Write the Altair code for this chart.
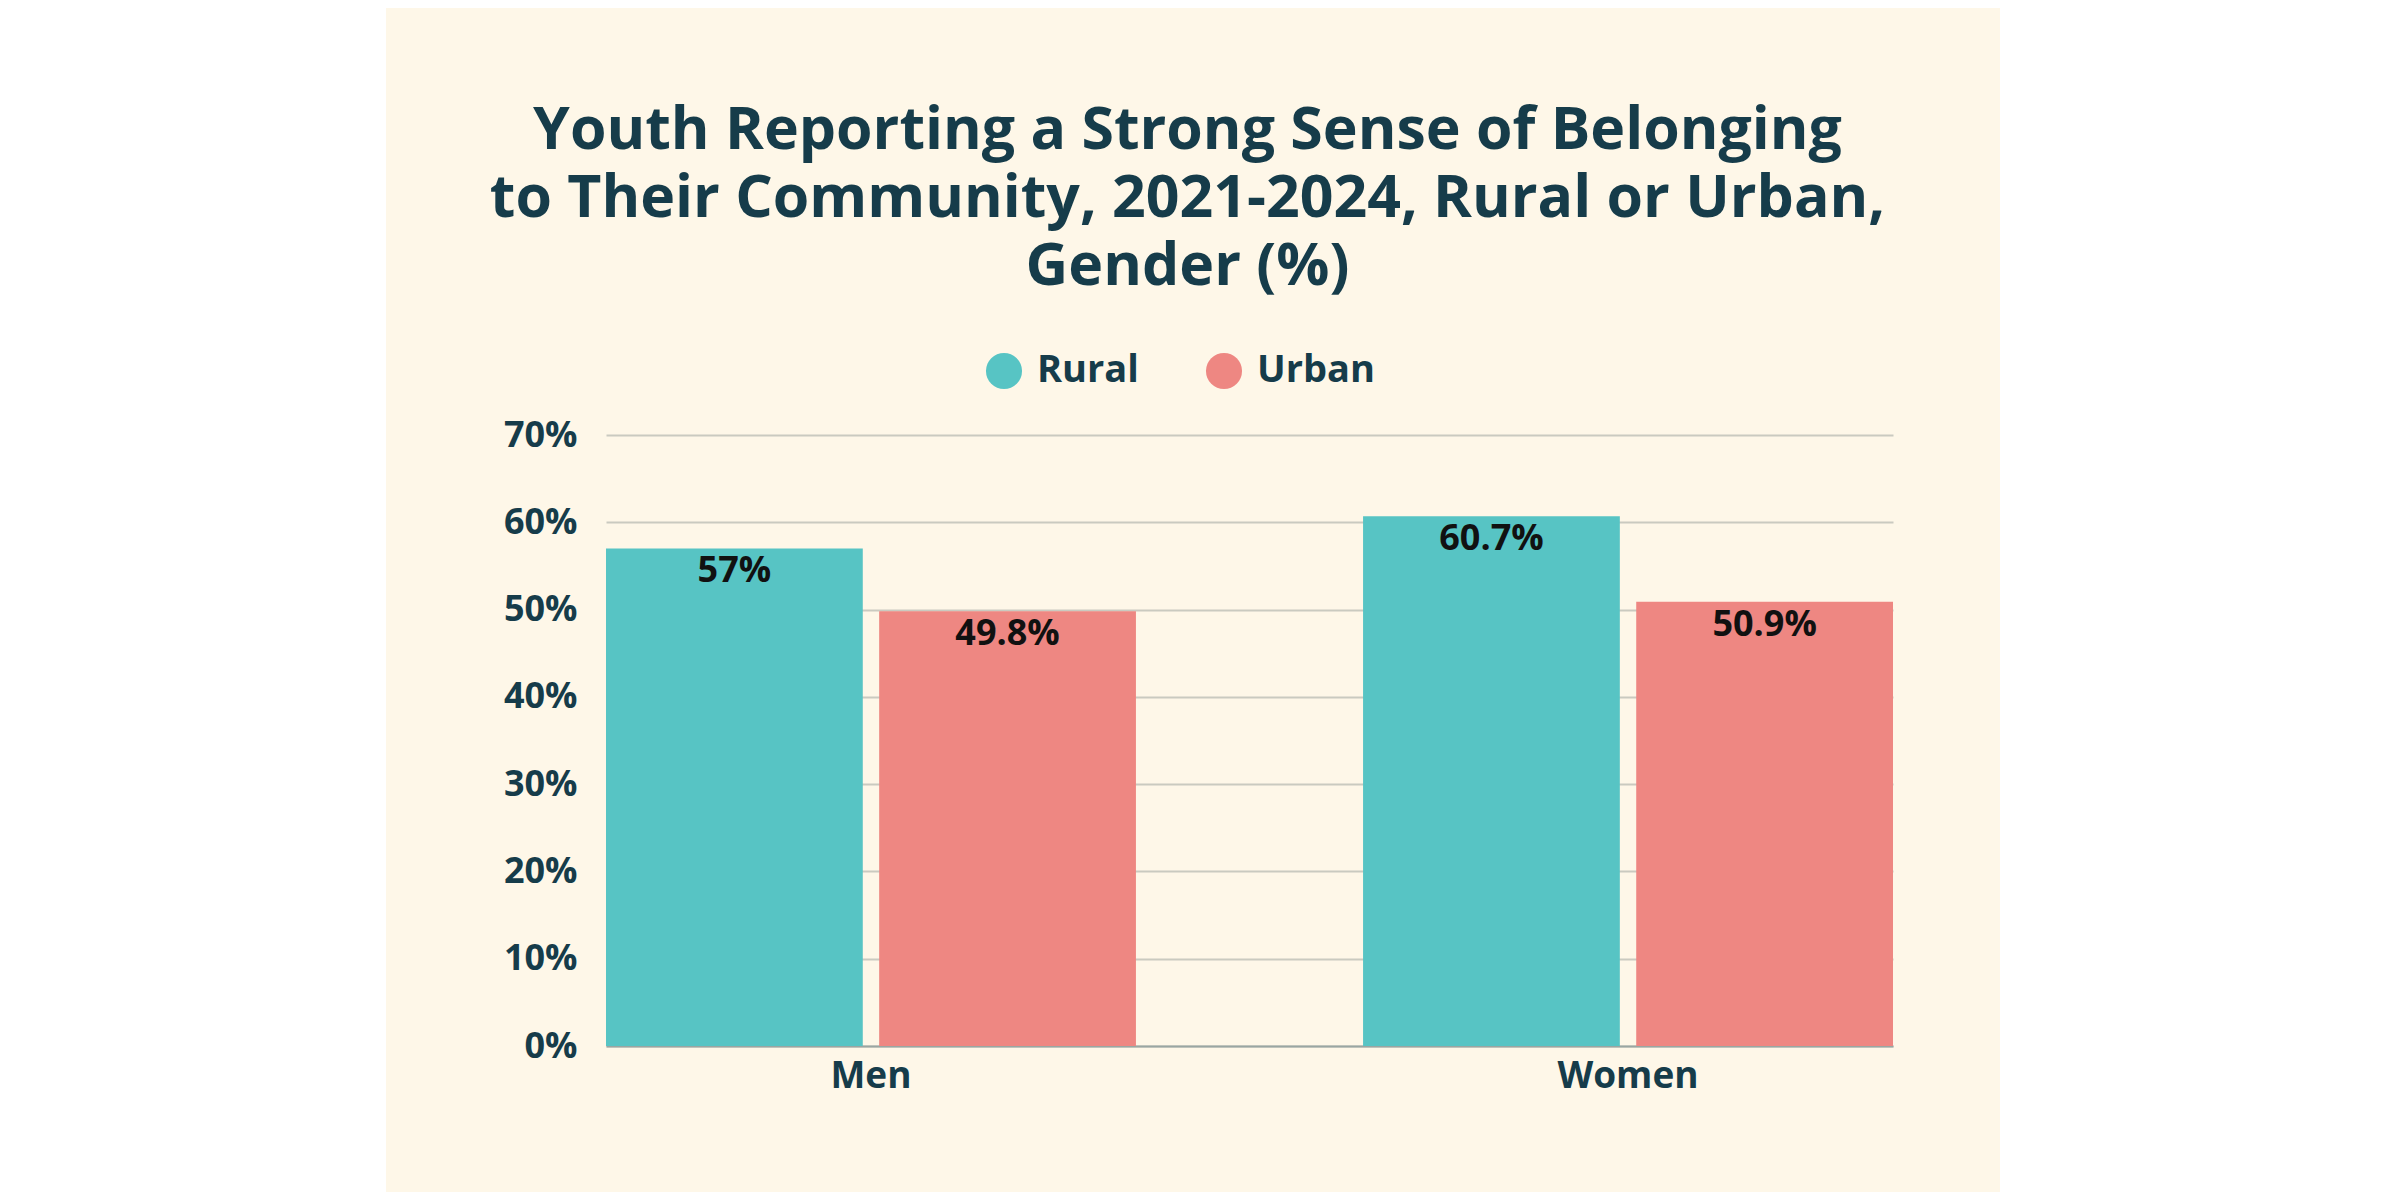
import altair as alt
import pandas as pd

# values
gender = ['Men', 'Men', 'Women', 'Women']
area = ['Rural', 'Urban', 'Rural', 'Urban']
share = [57, 49.8, 60.7, 50.9]
share_label = ['57%', '49.8%', '60.7%', '50.9%']
y_ticks = [0, 10, 20, 30, 40, 50, 60, 70]

df = pd.DataFrame({'gender': gender, 'area': area, 'share': share, 'label': share_label})

ink = '#163c4a'
cream = '#fef7e8'
font = 'Open Sans'

x_enc = alt.X('gender:N', title=None,
              scale=alt.Scale(paddingInner=0.3, paddingOuter=0),
              axis=alt.Axis(labelAngle=0, labelFontSize=37, labelPadding=12, ticks=False,
                            domain=True, domainColor='#9aa6a2', domainWidth=2, grid=False))
y_enc = alt.Y('share:Q', title=None,
              scale=alt.Scale(domain=[0, 70], nice=False),
              axis=alt.Axis(values=y_ticks, labelExpr="datum.value + '%'", labelFontSize=36,
                            labelPadding=29, ticks=False, domain=False, grid=True,
                            gridColor='#cacac0', gridWidth=2))
off_enc = alt.XOffset('area:N', scale=alt.Scale(paddingInner=0.06, paddingOuter=0))

bars = alt.Chart(df).mark_bar().encode(
    x=x_enc,
    y=y_enc,
    xOffset=off_enc,
    color=alt.Color('area:N', title=None,
                    scale=alt.Scale(domain=['Rural', 'Urban'], range=['#57c4c4', '#ee8782']),
                    legend=alt.Legend(orient='none', legendX=379, legendY=-83, direction='horizontal',
                                      symbolType='circle', symbolSize=1300, symbolStrokeWidth=0,
                                      labelFontSize=38, labelOffset=14, columnPadding=66, padding=0)),
)

labels = alt.Chart(df).mark_text(baseline='alphabetic', dy=34, fontSize=36, fontWeight='bold',
                                 font=font, color='#111111').encode(
    x=x_enc,
    y=y_enc,
    xOffset=off_enc,
    text='label:N',
)

# white margins either side of the cream card
left_pad = alt.Chart(pd.DataFrame({'side': ['left']})).mark_rect(color='white').encode(
    x=alt.value(-598), x2=alt.value(-220), y=alt.value(-427), y2=alt.value(757))
right_pad = alt.Chart(pd.DataFrame({'side': ['right']})).mark_rect(color='white').encode(
    x=alt.value(1394), x2=alt.value(1786), y=alt.value(-427), y2=alt.value(757))

chart = alt.layer(left_pad, right_pad, bars, labels).properties(
    width=1287,
    height=611,
    padding={'left': 598, 'top': 427, 'right': 499, 'bottom': 146},
    autosize=alt.AutoSizeParams(type='none'),
    background=cream,
    title=alt.TitleParams(
        ['Youth Reporting a Strong Sense of Belonging',
         'to Their Community, 2021-2024, Rural or Urban,',
         'Gender (%)'],
        fontSize=59, font=font, fontWeight='bold', color=ink, lineHeight=68,
        anchor='middle', frame='group', dx=-62, offset=0, dy=289),
).configure_view(
    stroke=None
).configure_axis(
    labelFont=font, labelFontWeight='bold', labelColor=ink
).configure_legend(
    labelFont=font, labelFontWeight='bold', labelColor=ink
)

chart.save('out.html', embed_options={'renderer': 'svg', 'actions': False})
